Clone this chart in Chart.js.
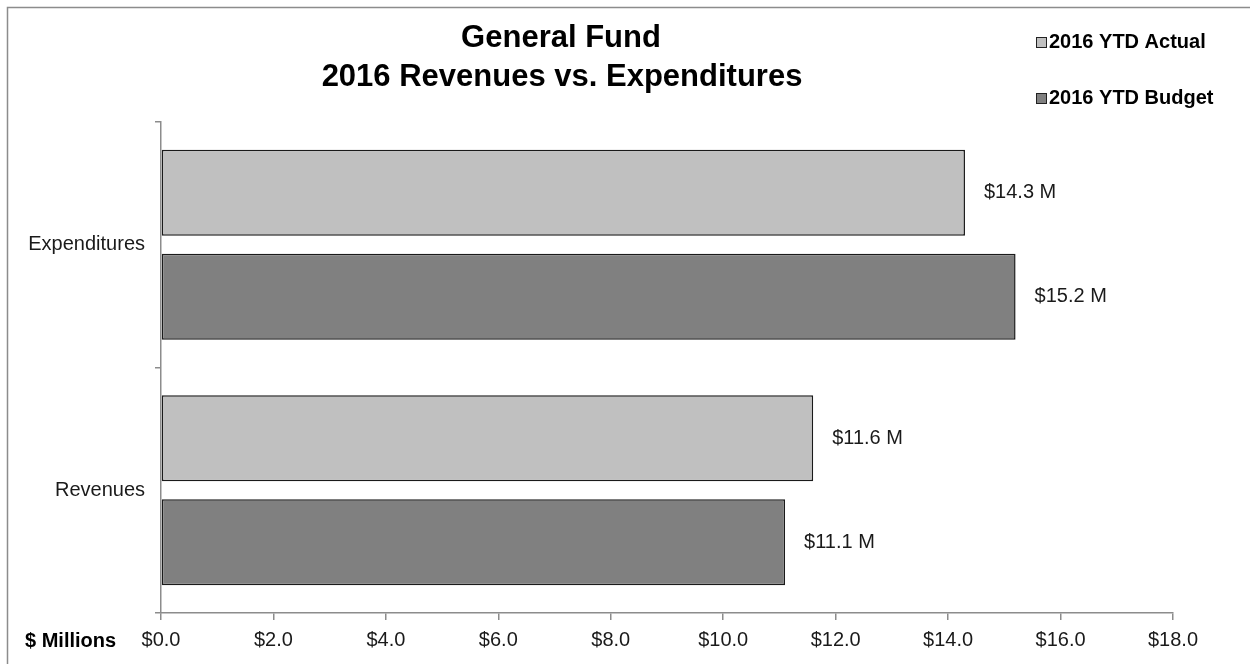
<!DOCTYPE html>
<html>
<head>
<meta charset="utf-8">
<title>General Fund 2016 Revenues vs. Expenditures</title>
<script src="https://cdn.jsdelivr.net/npm/chart.js@4/dist/chart.umd.min.js"></script>
<style>
  html, body { margin: 0; padding: 0; background: #fff; }
  #wrap { position: relative; width: 1250px; height: 664px; }
</style>
</head>
<body>
<div id="wrap"><canvas id="c" width="1250" height="664"></canvas></div>
<script>
// Categories and series (values in $ millions)
const categories = ['Expenditures', 'Revenues'];
const actual2016 = [14.3, 11.6];
const budget2016 = [15.2, 11.1];
const seriesNames = ['2016 YTD Actual', '2016 YTD Budget'];
const titleLines = ['General Fund', '2016 Revenues vs. Expenditures'];
const axisTitle = '$ Millions';
const xTickValues = [0, 2, 4, 6, 8, 10, 12, 14, 16, 18];

const FONT = '"Liberation Sans", Arial, sans-serif';
const colors = ['#C0C0C0', '#808080'];

const fmtTick = v => '$' + Number(v).toFixed(1);
const fmtLabel = v => '$' + Number(v).toFixed(1) + ' M';

// Frame, title, legend, axis caption and bar value labels
const decorations = {
  id: 'decorations',
  beforeDraw(chart) {
    const ctx = chart.ctx;
    ctx.save();
    ctx.fillStyle = '#fff';
    ctx.fillRect(0, 0, chart.width, chart.height);
    ctx.strokeStyle = '#8c8c8c';
    ctx.lineWidth = 1.5;
    ctx.strokeRect(7.5, 7.5, chart.width + 20, chart.height + 20);
    ctx.restore();
  },
  afterDraw(chart) {
    const ctx = chart.ctx;
    ctx.save();
    // title
    ctx.fillStyle = '#000';
    ctx.font = 'bold 31px ' + FONT;
    ctx.textAlign = 'center';
    ctx.textBaseline = 'middle';
    ctx.fillText(titleLines[0], 561, 38);
    ctx.fillText(titleLines[1], 562, 77);

    // legend
    ctx.font = 'bold 20px ' + FONT;
    ctx.textAlign = 'left';
    const legendY = [42, 98];
    seriesNames.forEach((name, i) => {
      ctx.fillStyle = colors[i];
      ctx.fillRect(1036, legendY[i] - 5, 11, 11);
      ctx.strokeStyle = '#222';
      ctx.lineWidth = 1;
      ctx.strokeRect(1036.5, legendY[i] - 4.5, 10, 10);
      ctx.fillStyle = '#000';
      ctx.fillText(name, 1049, legendY[i]);
    });

    // x axis caption
    ctx.font = 'bold 20px ' + FONT;
    ctx.textAlign = 'left';
    ctx.fillText(axisTitle, 25, 641);

    // value labels at bar ends
    ctx.font = '20px ' + FONT;
    ctx.fillStyle = '#1a1a1a';
    chart.data.datasets.forEach((ds, di) => {
      const meta = chart.getDatasetMeta(di);
      meta.data.forEach((bar, i) => {
        ctx.fillText(fmtLabel(ds.data[i]), bar.x + 19, bar.y);
      });
    });
    ctx.restore();
  }
};

new Chart(document.getElementById('c'), {
  type: 'bar',
  data: {
    labels: categories,
    datasets: [
      { label: seriesNames[0], data: actual2016, backgroundColor: colors[0],
        borderColor: '#1a1a1a', borderWidth: 1.5, borderSkipped: false },
      { label: seriesNames[1], data: budget2016, backgroundColor: colors[1],
        borderColor: '#1a1a1a', borderWidth: 1.5, borderSkipped: false }
    ]
  },
  options: {
    indexAxis: 'y',
    responsive: false,
    animation: false,
    devicePixelRatio: 1,
    categoryPercentage: 0.847,
    barPercentage: 0.827,
    layout: { padding: { top: 122, right: 77, left: 0, bottom: 0 } },
    plugins: {
      legend: { display: false },
      title: { display: false },
      tooltip: { enabled: false }
    },
    scales: {
      x: {
        min: 0, max: 18,
        afterBuildTicks(axis) { axis.ticks = xTickValues.map(v => ({ value: v })); },
        afterFit(axis) { axis.height = 51; },
        grid: { drawOnChartArea: false, drawTicks: true, tickLength: 7, color: '#8c8c8c', lineWidth: 1.5 },
        border: { color: '#8c8c8c', width: 1.5 },
        ticks: {
          callback: v => fmtTick(v),
          color: '#1a1a1a', padding: 8, maxRotation: 0, autoSkip: false,
          font: { family: FONT, size: 20 }
        }
      },
      y: {
        afterFit(axis) { axis.width = 161; },
        grid: { drawOnChartArea: false, drawTicks: true, tickLength: 6, color: '#8c8c8c', lineWidth: 1.5, offset: true },
        border: { color: '#8c8c8c', width: 1.5 },
        ticks: {
          color: '#1a1a1a', padding: 10,
          font: { family: FONT, size: 20 }
        }
      }
    }
  },
  plugins: [decorations]
});
</script>
</body>
</html>
